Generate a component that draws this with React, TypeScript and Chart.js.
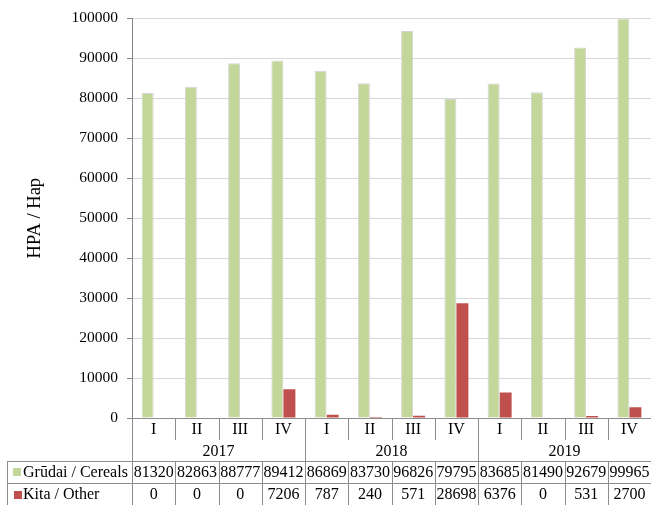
import React, { useEffect, useRef } from "react";
import { Chart, registerables } from "chart.js";

Chart.register(...registerables);

const quarters = ["I", "II", "III", "IV", "I", "II", "III", "IV", "I", "II", "III", "IV"];
const years = ["2017", "2018", "2019"];
const cereals = [81320, 82863, 88777, 89412, 86869, 83730, 96826, 79795, 83685, 81490, 92679, 99965];
const other = [0, 0, 0, 7206, 787, 240, 571, 28698, 6376, 0, 531, 2700];
const seriesNames = ["Grūdai / Cereals", "Kita / Other"];
const yTitle = "HPA / Hap";

const GREEN = "#c4d79b";
const RED = "#c0504d";
const LINE = "#8c8c8c";
const FONT = "Liberation Serif";

const tablePlugin = {
  id: "dataTable",
  afterDraw(chart: any) {
    const ctx = chart.ctx;
    const x = chart.scales.x;
    const area = chart.chartArea;
    const n = quarters.length;
    const w = (area.right - area.left) / n;
    const top = area.bottom;
    const rowQ = top + 22;
    const rowY = top + 43;
    const rowA = rowY + 22;
    const rowB = rowA + 22;
    const leftEdge = 7;
    const px = (v: number) => Math.round(v) + 0.5;

    ctx.save();
    ctx.strokeStyle = LINE;
    ctx.lineWidth = 1;
    ctx.beginPath();
    ctx.moveTo(area.left, px(top));
    ctx.lineTo(area.right, px(top));
    for (let k = 0; k <= n; k++) {
      const bx = px(area.left + k * w);
      let endY = rowQ;
      if (k % 4 === 0) endY = rowY;
      ctx.moveTo(bx, top);
      ctx.lineTo(bx, endY);
      ctx.moveTo(bx, rowY);
      ctx.lineTo(bx, rowB + 5);
    }
    ctx.moveTo(leftEdge + 0.5, rowY);
    ctx.lineTo(leftEdge + 0.5, rowB + 5);
    ctx.moveTo(leftEdge, px(rowY));
    ctx.lineTo(area.right, px(rowY));
    ctx.moveTo(leftEdge, px(rowA));
    ctx.lineTo(area.right, px(rowA));
    ctx.moveTo(leftEdge, px(rowB));
    ctx.lineTo(area.right, px(rowB));
    ctx.stroke();

    ctx.fillStyle = "#000";
    ctx.font = `16px "${FONT}"`;
    ctx.textAlign = "center";
    ctx.textBaseline = "middle";
    for (let i = 0; i < n; i++) {
      const cx = x.getPixelForValue(i);
      ctx.fillText(quarters[i], cx, top + 12);
      ctx.fillText(String(cereals[i]), cx, rowY + 12);
      ctx.fillText(String(other[i]), cx, rowA + 12);
    }
    for (let j = 0; j < years.length; j++) {
      const cx = area.left + (j * 4 + 2) * w;
      ctx.fillText(years[j], cx, top + 34);
    }
    ctx.textAlign = "left";
    ctx.fillStyle = GREEN;
    ctx.fillRect(13, rowY + 7, 8, 8);
    ctx.fillStyle = RED;
    ctx.fillRect(14, rowA + 8, 8, 8);
    ctx.fillStyle = "#000";
    ctx.fillText(seriesNames[0], 23, rowY + 12);
    ctx.fillText(seriesNames[1], 23, rowA + 12);

    ctx.save();
    ctx.translate(40, (area.top + area.bottom) / 2);
    ctx.rotate(-Math.PI / 2);
    ctx.textAlign = "center";
    ctx.textBaseline = "alphabetic";
    ctx.font = `18.5px "${FONT}"`;
    ctx.fillText(yTitle, 0, 0);
    ctx.restore();
    ctx.restore();
  },
};

export default function App() {
  const ref = useRef<HTMLCanvasElement>(null);
  useEffect(() => {
    if (!ref.current) return;
    const chart = new Chart(ref.current, {
      type: "bar",
      data: {
        labels: quarters.map((q, i) => `${years[Math.floor(i / 4)]} ${q}`),
        datasets: [
          {
            label: seriesNames[0],
            data: cereals,
            backgroundColor: GREEN,
            borderColor: "#d4d4d4",
            borderWidth: 1,
            categoryPercentage: 0.555,
            barPercentage: 1,
          },
          {
            label: seriesNames[1],
            data: other,
            backgroundColor: RED,
            borderWidth: 0,
            categoryPercentage: 0.555,
            barPercentage: 1,
          },
        ],
      },
      options: {
        responsive: false,
        animation: false,
        devicePixelRatio: 1,
        layout: { padding: { left: 0, right: 0, top: 17, bottom: 87 } },
        plugins: { legend: { display: false }, tooltip: { enabled: false } },
        scales: {
          x: { display: false, offset: true },
          y: {
            min: 0,
            max: 100000,
            ticks: {
              stepSize: 10000,
              color: "#000",
              padding: 9,
              font: { family: FONT, size: 15.5 },
              callback: (v: any) => String(v),
            },
            grid: { color: "#d9d9d9", tickColor: "#868686", tickLength: 5 },
            border: { color: "#868686" },
            afterFit: (s: any) => {
              s.width = 132;
            },
          },
        },
      },
      plugins: [tablePlugin],
    });
    return () => chart.destroy();
  }, []);
  return (
    <div style={{ position: "absolute", left: 0, top: 0, width: 651, height: 505, background: "#fff" }}>
      <canvas ref={ref} width={651} height={505} style={{ display: "block" }} />
    </div>
  );
}
